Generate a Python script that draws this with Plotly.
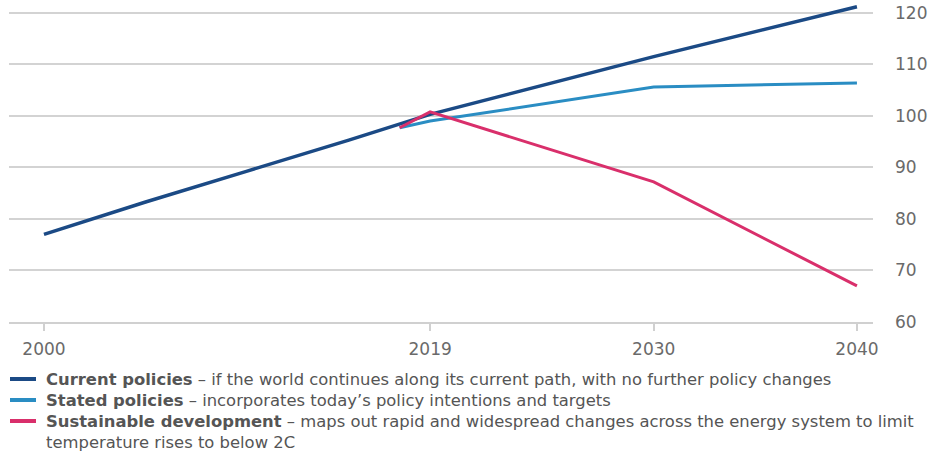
import plotly.graph_objects as go

# Data (index)
current_years = [2000, 2005, 2010, 2015, 2019, 2030, 2040]
current_vals = [77.0, 83.3, 89.3, 95.3, 100.3, 111.5, 121.2]

stated_years = [2017.5, 2019, 2030, 2040]
stated_vals = [97.7, 99.0, 105.6, 106.4]

sustainable_years = [2017.5, 2019, 2030, 2040]
sustainable_vals = [97.7, 100.8, 87.2, 67.0]

x_ticks = [2000, 2019, 2030, 2040]
y_ticks = [60, 70, 80, 90, 100, 110, 120]

legend_lines = [
    "<b>Current policies</b> – if the world continues along its current path, with no further policy changes",
    "<b>Stated policies</b> – incorporates today’s policy intentions and targets",
    "<b>Sustainable development</b> – maps out rapid and widespread changes across the energy system to limit",
    "temperature rises to below 2C",
]
series_names = ["Current policies", "Stated policies", "Sustainable development"]
colors = ["#1b4a85", "#2a8dc3", "#d92f6b"]

W, H = 933, 453
ML, MR, MT, MB = 9, 60, 0, 131
PW, PH = W - ML - MR, H - MT - MB


def px_to_paper(px, py):
    return (px - ML) / PW, (H - MB - py) / PH


fig = go.Figure()
for xs, ys, nm, col, w in [
    (current_years, current_vals, series_names[0], colors[0], 3.5),
    (stated_years, stated_vals, series_names[1], colors[1], 3),
    (sustainable_years, sustainable_vals, series_names[2], colors[2], 3),
]:
    fig.add_trace(go.Scatter(x=xs, y=ys, mode="lines", name=nm, showlegend=False,
                             line=dict(color=col, width=w)))

# manual legend
line_ys = [379, 400, 421, 442]
for i, txt in enumerate(legend_lines):
    tx, ty = px_to_paper(44, line_ys[i])
    fig.add_annotation(x=tx, y=ty, xref="paper", yref="paper", text=txt, showarrow=False,
                       xanchor="left", yanchor="middle", align="left",
                       font=dict(family="DejaVu Sans, sans-serif", size=16.4, color="#555"))
for i, col in enumerate(colors):
    x0, y0 = px_to_paper(10, line_ys[i])
    x1, _ = px_to_paper(36, line_ys[i])
    fig.add_shape(type="line", xref="paper", yref="paper", x0=x0, x1=x1, y0=y0, y1=y0,
                  line=dict(color=col, width=4))

font_family = "DejaVu Sans, sans-serif"
fig.update_layout(
    width=W, height=H,
    margin=dict(l=ML, r=MR, t=MT, b=MB),
    paper_bgcolor="white", plot_bgcolor="white",
    font=dict(family=font_family, size=15, color="#555"),
    hovermode=False,
    showlegend=False,
    xaxis=dict(range=[1998.28, 2040.79], tickvals=x_ticks, ticktext=[str(v) for v in x_ticks],
               showgrid=False, zeroline=False, showline=True, linecolor="#d0d0d0", linewidth=1.5,
               ticks="outside", ticklen=7, tickwidth=1.5, tickcolor="#d0d0d0",
               ticklabelstandoff=4, tickfont=dict(size=17, color="#6a6a6a")),
    yaxis=dict(range=[60, 122.5], side="right", tickvals=y_ticks, ticktext=[str(v) for v in y_ticks],
               showgrid=True, gridcolor="#d3d3d3", gridwidth=1.5, zeroline=False, showline=False,
               ticks="", ticklabelstandoff=21, tickfont=dict(size=17, color="#6a6a6a")),
)

fig.write_html("out.html", config={"displayModeBar": False})
